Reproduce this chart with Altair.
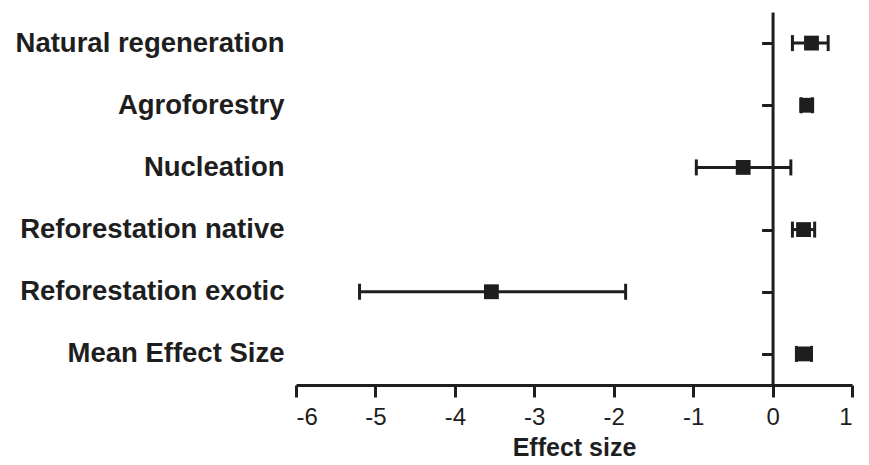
import altair as alt
import pandas as pd

categories = ["Natural regeneration", "Agroforestry", "Nucleation",
              "Reforestation native", "Reforestation exotic", "Mean Effect Size"]
effect = [0.49, 0.43, -0.37, 0.39, -3.54, 0.39]
ci_low = [0.25, 0.36, -0.96, 0.25, -5.20, 0.30]
ci_high = [0.70, 0.50, 0.23, 0.53, -1.85, 0.49]
x_ticks = [-6, -5.5, -5, -4.5, -4, -3.5, -3, -2.5, -2, -1.5, -1, -0.5, 0, 0.5, 1]

df = pd.DataFrame({"cat": categories, "es": effect, "lo": ci_low, "hi": ci_high})

INK = "#1e1e1e"
W, H = 556, 373
zero_offset = -W * 6 / 7

xscale = alt.Scale(domain=[-6, 1], nice=False, zero=False)
yscale = alt.Scale(domain=categories, type="point", padding=0.5)

xaxis = alt.Axis(
    values=x_ticks,
    labelExpr="datum.value % 1 === 0 ? '' + datum.value : ''",
    tickSize={"condition": {"test": "datum.value % 1 !== 0", "value": 6}, "value": 12},
    tickWidth=3, tickColor=INK, domainWidth=3, domainColor=INK,
    labelFont="Liberation Sans", labelFontSize=24, labelColor=INK, labelPadding=8,
    title="Effect size", titleFont="Liberation Sans", titleFontSize=25,
    titleFontWeight="bold", titleColor=INK, titlePadding=6, grid=False,
)

ylabel_axis = alt.Axis(
    title=None, ticks=False, domain=False, grid=False, labelLimit=500,
    labelFont="Liberation Sans", labelFontSize=27.5, labelFontWeight="bold",
    labelColor=INK, labelPadding=12, labelBaseline="middle",
)

zero_axis = alt.Axis(
    title=None, labels=False, grid=False, orient="left", offset=zero_offset,
    domainWidth=3, domainColor=INK, tickSize=11, tickWidth=3, tickColor=INK,
)

base = alt.Chart(df)

bars = base.mark_rule(color=INK, strokeWidth=3, opacity=1).encode(
    x=alt.X("lo:Q", scale=xscale, axis=xaxis),
    x2="hi:Q",
    y=alt.Y("cat:N", scale=yscale, axis=ylabel_axis),
)
cap_lo = base.mark_tick(color=INK, size=16, thickness=3, opacity=1).encode(
    x=alt.X("lo:Q", scale=xscale), y=alt.Y("cat:N", scale=yscale, axis=None))
cap_hi = base.mark_tick(color=INK, size=16, thickness=3, opacity=1).encode(
    x=alt.X("hi:Q", scale=xscale), y=alt.Y("cat:N", scale=yscale, axis=None))
pts = base.mark_square(color=INK, size=220, opacity=1).encode(
    x=alt.X("es:Q", scale=xscale), y=alt.Y("cat:N", scale=yscale, axis=None))

zero = base.mark_point(opacity=0).encode(
    x=alt.X("es:Q", scale=xscale),
    y=alt.Y("cat:N", scale=yscale, axis=zero_axis),
)

chart = alt.layer(bars, cap_lo, cap_hi, pts, zero).resolve_axis(y="independent").properties(
    width=W, height=H,
    padding={"left": 7, "top": 4, "right": 5, "bottom": 0},
).configure_view(stroke=None)

chart.save("out.html", embed_options={"renderer": "svg", "actions": False})
